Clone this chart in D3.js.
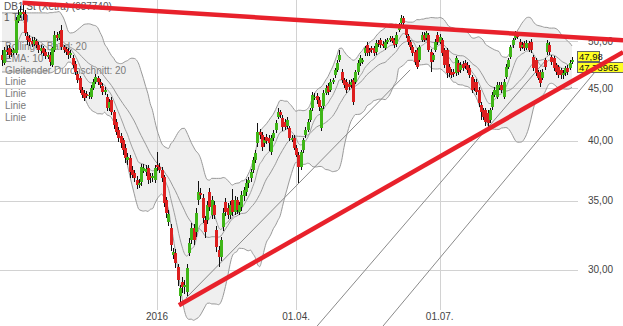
<!DOCTYPE html>
<html>
<head>
<meta charset="utf-8">
<script src="https://cdnjs.cloudflare.com/ajax/libs/d3/7.8.5/d3.min.js"></script>
<style>
  html, body { margin: 0; padding: 0; background: #fff; }
  svg { display: block; font-family: "Liberation Sans", Arial, sans-serif; }
</style>
</head>
<body>
<div id="chart"></div>
<script>
// daily candles, [open, high, low, close]
var candles = [
  [48.48,49.05,47.3,47.95],[47.6,49.35,47.4,49.0],[49.0,49.45,48.5,48.8],[49.25,49.6,48.15,48.5],[48.8,49.1,48.3,48.7],[48.7,49.2,48.5,49.0],[48.7,52.8,48.5,52.4],[52.3,53.6,52.1,53.0],[53.0,54.1,52.7,53.4],[53.4,54.5,52.4,53.1],
  [53.2,53.6,50.6,50.9],[50.6,51.0,49.6,50.1],[50.35,50.7,49.5,49.9],[50.0,50.5,49.35,49.7],[49.7,50.5,49.5,50.15],[50.0,50.3,49.3,49.6],[49.6,49.9,48.7,49.0],[48.9,49.6,48.6,49.25],[49.25,49.5,48.4,48.7],[48.8,49.1,48.0,48.4],
  [48.25,48.8,48.0,48.5],[48.5,48.8,47.3,47.75],[47.4,49.4,47.2,49.25],[49.0,51.2,48.8,50.7],[50.7,51.0,50.0,50.35],[50.35,51.2,50.1,50.8],[51.25,51.85,49.0,49.35],[49.35,49.6,48.7,49.0],[49.1,49.4,48.5,48.8],[48.9,49.2,48.1,48.5],
  [48.5,49.0,48.2,48.7],[48.15,48.5,47.1,47.4],[47.5,47.8,46.4,46.7],[46.45,46.8,45.5,45.85],[46.05,46.3,44.5,44.85],[44.85,45.1,44.0,44.35],[44.55,44.8,43.7,44.05],[44.45,44.75,44.0,44.25],[44.25,44.6,43.9,44.35],[44.15,45.3,43.9,45.05],
  [45.05,45.9,44.8,45.65],[45.65,46.5,45.4,46.15],[46.05,46.3,45.3,45.65],[45.65,45.9,45.0,45.35],[45.25,45.5,44.3,44.65],[44.65,45.1,44.3,44.85],[44.15,44.4,42.8,43.05],[43.05,43.9,42.8,43.65],[43.85,44.1,42.4,42.7],[42.7,42.9,41.1,41.45],
  [41.75,42.0,40.5,40.8],[41.0,41.3,39.9,40.25],[40.45,40.7,39.4,39.8],[40.1,40.3,38.8,39.2],[39.4,39.7,38.1,38.5],[38.35,38.9,37.9,38.6],[38.5,38.8,36.8,37.3],[37.5,37.8,36.8,37.05],[37.25,37.5,36.5,36.85],[36.65,37.0,35.9,36.25],
  [36.25,36.7,36.0,36.4],[36.5,38.0,36.2,37.75],[37.4,38.0,37.2,37.65],[37.3,37.9,37.0,37.55],[37.65,37.9,36.3,36.65],[37.0,37.2,36.4,36.8],[36.8,37.2,36.5,37.0],[36.65,37.9,36.4,37.65],[37.9,39.0,37.4,37.75],[37.75,38.1,37.2,37.5],
  [37.5,37.7,36.5,36.85],[36.9,37.1,34.5,34.8],[35.05,35.3,33.7,34.05],[33.4,34.3,33.1,33.95],[32.9,33.2,31.3,31.7],[31.0,31.5,30.7,31.2],[31.15,31.4,30.1,30.45],[30.15,30.4,28.9,29.3],[28.3,29.0,27.9,28.8],[29.2,29.5,28.5,28.85],
  [28.85,29.3,28.4,29.0],[28.55,30.4,28.3,30.1],[31.15,32.2,30.9,31.85],[32.05,33.3,31.8,32.9],[32.9,33.2,31.7,32.05],[32.6,34.4,32.3,34.05],[35.05,36.6,34.7,35.7],[35.6,36.0,35.1,35.45],[35.2,35.5,33.3,33.65],[33.5,33.8,32.2,32.6],
  [33.5,35.0,33.2,34.65],[35.7,36.0,34.2,34.5],[33.9,35.4,33.6,35.05],[34.65,35.0,33.6,33.9],[32.8,33.1,31.2,31.55],[31.35,31.6,30.2,30.85],[30.85,32.3,30.6,32.05],[33.0,34.4,32.7,34.05],[34.9,35.2,33.8,34.15],[34.45,34.8,33.6,33.9],
  [33.9,35.0,33.6,34.65],[35.05,35.9,33.8,34.15],[34.15,35.4,33.9,35.05],[35.05,35.3,34.0,34.3],[34.15,34.9,33.9,34.65],[34.5,35.8,34.2,35.45],[35.35,36.1,35.0,35.85],[35.7,36.7,35.4,36.4],[36.4,36.9,36.0,36.65],[36.8,37.6,36.5,37.3],
  [37.5,38.6,37.2,38.35],[38.35,39.2,38.1,38.95],[39.8,41.6,39.5,40.8],[40.8,41.1,40.2,40.55],[40.55,40.8,39.1,39.45],[39.8,40.4,39.5,40.1],[40.35,40.6,39.7,40.0],[40.25,40.5,39.1,39.8],[39.0,40.5,38.8,40.25],[40.25,41.0,40.0,40.75],
  [41.0,41.9,40.7,41.65],[42.2,43.1,42.0,42.7],[42.7,42.9,42.1,42.4],[42.1,42.4,40.9,41.3],[41.75,42.0,41.0,41.3],[41.35,42.2,41.1,41.9],[41.2,41.4,40.0,40.25],[40.1,40.5,39.9,40.3],[40.3,40.5,39.2,39.4],[39.4,39.6,38.6,38.8],
  [38.75,39.0,36.4,37.7],[37.7,39.2,37.5,39.0],[39.2,40.3,38.9,40.1],[40.55,41.3,40.3,41.0],[41.0,42.0,40.8,41.75],[41.9,43.1,41.7,42.85],[43.05,44.6,42.8,44.35],[44.05,44.5,43.8,44.15],[44.25,44.5,43.5,43.85],[43.85,44.1,42.8,43.15],
  [41.2,43.3,40.9,43.05],[43.25,44.8,43.0,44.55],[44.55,45.3,44.3,45.05],[45.25,45.5,44.3,44.65],[44.85,45.9,44.6,45.65],[45.65,46.1,45.4,45.85],[46.35,47.1,46.1,46.9],[46.9,47.9,46.7,47.6],[47.95,49.0,47.7,48.5],[46.7,47.0,45.5,45.85],
  [45.85,46.1,45.0,45.35],[45.65,45.9,44.5,44.85],[45.45,45.8,44.8,45.15],[45.35,45.9,45.0,45.65],[45.85,46.1,43.4,43.65],[45.65,46.9,45.4,46.7],[46.7,47.9,46.4,47.6],[47.6,48.5,47.3,48.15],[47.75,48.2,47.5,47.95],[48.7,49.5,48.4,49.25],
  [49.6,49.9,48.4,48.7],[49.0,49.3,48.4,48.8],[49.25,49.5,48.7,49.0],[49.25,49.5,48.4,48.7],[48.8,50.1,48.5,49.8],[49.8,50.1,49.4,49.7],[50.15,50.4,49.3,49.6],[49.7,50.0,49.2,49.45],[49.25,50.2,49.0,49.9],[49.9,50.4,49.7,50.15],
  [50.15,50.6,49.9,50.35],[50.35,50.6,49.8,50.0],[50.15,50.4,49.3,49.6],[49.7,51.0,49.4,50.7],[51.25,52.1,51.0,51.85],[52.1,53.0,51.8,52.65],[52.65,52.9,51.8,52.05],[51.5,51.8,50.4,50.7],[50.6,50.8,49.6,49.9],[49.9,50.1,49.0,49.35],
  [49.35,49.6,48.4,48.7],[48.8,49.0,47.4,47.75],[49.0,49.3,46.95,47.2],[47.95,49.6,47.7,49.35],[50.15,51.0,49.9,50.7],[50.7,51.0,49.9,50.15],[50.35,51.2,50.1,50.95],[50.7,50.9,48.8,49.0],[48.8,49.1,46.7,47.75],[47.95,48.7,47.7,48.5],
  [49.0,50.2,48.8,49.9],[50.7,51.0,49.6,49.9],[49.9,50.8,49.7,50.45],[50.15,50.4,48.4,48.7],[49.0,49.3,47.1,47.4],[49.0,49.2,46.1,46.55],[47.2,47.5,46.2,46.55],[46.7,47.0,46.1,46.35],[46.7,47.0,46.2,46.45],[46.55,48.4,46.3,48.15],
  [47.6,47.9,46.4,46.7],[46.9,47.7,46.6,47.4],[47.5,47.8,46.8,47.1],[47.6,47.9,47.0,47.3],[47.4,47.7,46.6,46.9],[47.1,47.4,46.1,46.35],[46.15,46.4,44.5,44.85],[45.65,45.9,44.7,45.05],[45.65,45.9,44.3,44.65],[44.85,45.1,43.2,43.55],
  [43.35,43.6,41.9,42.7],[42.85,43.1,41.9,42.2],[42.85,43.1,41.4,41.75],[42.6,42.9,41.3,41.65],[41.9,43.1,41.6,42.85],[43.15,44.6,42.9,44.35],[44.35,45.1,44.1,44.85],[44.15,45.6,43.9,45.35],[45.05,45.6,44.8,45.35],[45.35,45.6,44.5,44.85],
  [44.15,45.9,43.9,45.65],[46.15,47.5,45.9,47.2],[47.2,48.2,47.0,47.95],[48.25,49.6,48.0,49.35],[49.6,50.4,49.3,50.15],[50.35,51.2,50.1,50.7],[50.7,51.0,50.2,50.45],[49.9,50.2,48.9,49.25],[49.4,49.9,49.1,49.6],[49.8,50.0,48.9,49.25],
  [49.25,50.1,49.0,49.8],[49.8,50.0,48.8,49.0],[49.9,50.2,48.7,49.0],[48.25,48.5,46.8,47.1],[47.95,48.2,46.3,46.55],[46.7,46.9,45.8,46.05],[46.7,46.9,45.15,45.55],[46.05,47.0,45.8,46.7],[47.95,48.2,46.9,47.2],[48.8,50.1,48.5,49.8],
  [49.6,49.9,48.5,48.8],[48.25,48.5,47.4,47.75],[48.15,48.4,46.8,47.1],[47.4,47.6,46.4,46.7],[47.2,47.4,46.1,46.35],[46.9,47.1,46.0,46.35],[46.35,46.9,46.0,46.55],[46.55,47.3,46.3,47.1],[47.1,47.4,46.4,46.7],[47.1,47.9,46.9,47.6],
  [47.75,48.3,47.5,47.98]
];

// x ticks (candle index) and labels
var xTickIdx = [68, 129, 192];
var xTickLabels = ["2016", "01.04.", "01.07."];
var yTicks = [30, 35, 40, 45, 50];

var titleText = "DB1 St (Xetra) (087740)";
var legendRows = ["Bollinger Band: 20", "EMA: 10", "Gleitender Durchschnitt: 20", "Linie", "Linie", "Linie", "Linie"];

// drawn lines: [startIndex, startPrice, endIndex, endPrice]
var redLines = [
  [9, 54.5, 272.4, 50.1],
  [77.6, 27.7, 272.4, 48.8]
];
var grayLines = [
  [80.7, 28.15, 179, 46.9],
  [138.2, 26.44, 238.2, 47.84],
  [167.1, 26.44, 260.1, 46.68]
];

var lastValues = ["47,98", "47,73965"];

var bbPeriod = 20, emaPeriod = 10;

var svgWidth = 623, svgHeight = 326;

var svg = d3.select("#chart").append("svg")
  .attr("width", svgWidth)
  .attr("height", svgHeight);

var x = d3.scaleLinear().domain([0, 250]).range([2, 572]);
var y = d3.scaleLog().domain([30, 50]).range([269.6, 41.25]);

var closes = candles.map(d => d[3]);

// bollinger band + moving averages
var bands = closes.map(function(c, i) {
  var start = Math.max(0, i - bbPeriod + 1);
  var end = Math.max(i, bbPeriod - 1);
  var win = closes.slice(start, end + 1);
  var m = d3.mean(win);
  var sd = Math.sqrt(d3.mean(win, v => (v - m) * (v - m)));
  return { i: i, mid: m, up: m + 2 * sd, lo: m - 2 * sd };
});

var ema = [];
var k = 2 / (emaPeriod + 1);
closes.forEach(function(c, i) {
  ema.push(i === 0 ? c : c * k + ema[i - 1] * (1 - k));
});

// band fill
svg.append("path")
  .datum(bands)
  .attr("fill", "#efefef")
  .attr("d", d3.area().x(d => x(d.i)).y0(d => y(d.lo)).y1(d => y(d.up)).curve(d3.curveMonotoneX));

// grid
svg.selectAll(".hgrid").data(yTicks).enter().append("line")
  .attr("x1", 0).attr("x2", 578)
  .attr("y1", d => Math.round(y(d)) + 0.5).attr("y2", d => Math.round(y(d)) + 0.5)
  .attr("stroke", "#d2d2d2");

svg.selectAll(".vgrid").data(xTickIdx).enter().append("line")
  .attr("x1", d => Math.round(x(d)) + 0.5).attr("x2", d => Math.round(x(d)) + 0.5)
  .attr("y1", 0).attr("y2", 310)
  .attr("stroke", "#d2d2d2");

// axis labels
svg.selectAll(".ylab").data(yTicks).enter().append("text")
  .attr("x", 588).attr("y", d => y(d) + 3.5)
  .attr("font-size", "10px").attr("fill", "#444")
  .text(d => d3.format(".2f")(d).replace(".", ","));

svg.selectAll(".xlab").data(xTickIdx).enter().append("text")
  .attr("x", d => x(d)).attr("y", 320)
  .attr("text-anchor", "middle")
  .attr("font-size", "10px").attr("fill", "#444")
  .text((d, i) => xTickLabels[i]);

// legend text (drawn below the candles)
svg.append("text").attr("x", 4).attr("y", 10)
  .attr("font-size", "10px").attr("fill", "#555").text(titleText);
svg.append("text").attr("x", 4).attr("y", 21)
  .attr("font-size", "10px").attr("fill", "#555").text("1 Tag");
svg.selectAll(".leg").data(legendRows).enter().append("text")
  .attr("x", 5).attr("y", (d, i) => 50 + i * 11.8)
  .attr("font-size", "10px").attr("fill", "#7a7a7a")
  .text(d => d);

// band lines and averages
var lineGen = d3.line().curve(d3.curveMonotoneX);
["up", "lo", "mid"].forEach(function(key) {
  svg.append("path")
    .datum(bands)
    .attr("fill", "none")
    .attr("stroke", "#999")
    .attr("stroke-width", 1)
    .attr("d", lineGen.x(d => x(d.i)).y(d => y(d[key])));
});

svg.append("path")
  .datum(ema)
  .attr("fill", "none")
  .attr("stroke", "#a0a0a0")
  .attr("stroke-width", 1)
  .attr("d", d3.line().x((d, i) => x(i)).y(d => y(d)).curve(d3.curveMonotoneX));

// gray drawn lines
svg.selectAll(".gline").data(grayLines).enter().append("line")
  .attr("x1", d => x(d[0])).attr("y1", d => y(d[1]))
  .attr("x2", d => x(d[2])).attr("y2", d => y(d[3]))
  .attr("stroke", "#8a8a8a").attr("stroke-width", 1);

// candles
var cg = svg.append("g").attr("shape-rendering", "crispEdges");
cg.selectAll(".wick").data(candles).enter().append("line")
  .attr("x1", (d, i) => Math.round(x(i)) + 0.5)
  .attr("x2", (d, i) => Math.round(x(i)) + 0.5)
  .attr("y1", d => y(d[1])).attr("y2", d => y(d[2]))
  .attr("stroke", "#111");

cg.selectAll(".body").data(candles).enter().append("rect")
  .attr("x", (d, i) => Math.round(x(i)) - 1)
  .attr("width", 3)
  .attr("y", d => y(Math.max(d[0], d[3])))
  .attr("height", d => Math.max(1, Math.abs(y(d[0]) - y(d[3]))))
  .attr("fill", d => d[3] >= d[0] ? "#3fb618" : "#dd1f1f");

// last value boxes
var boxes = [
  { txt: lastValues[0], y: 51, w: 22 },
  { txt: lastValues[1], y: 62, w: 46 }
];
boxes.forEach(function(b) {
  svg.append("rect").attr("x", 577.5).attr("y", b.y + 0.5)
    .attr("width", b.w).attr("height", 10)
    .attr("fill", "#ffff22").attr("stroke", "#666");
  svg.append("text").attr("x", 579).attr("y", b.y + 8.5)
    .attr("font-size", "9.5px").attr("fill", "#111").text(b.txt);
});

// red trend lines
svg.selectAll(".rline").data(redLines).enter().append("line")
  .attr("x1", d => x(d[0])).attr("y1", d => y(d[1]))
  .attr("x2", d => x(d[2])).attr("y2", d => y(d[3]))
  .attr("stroke", "#e8212b").attr("stroke-width", 4.5);
</script>
</body>
</html>
